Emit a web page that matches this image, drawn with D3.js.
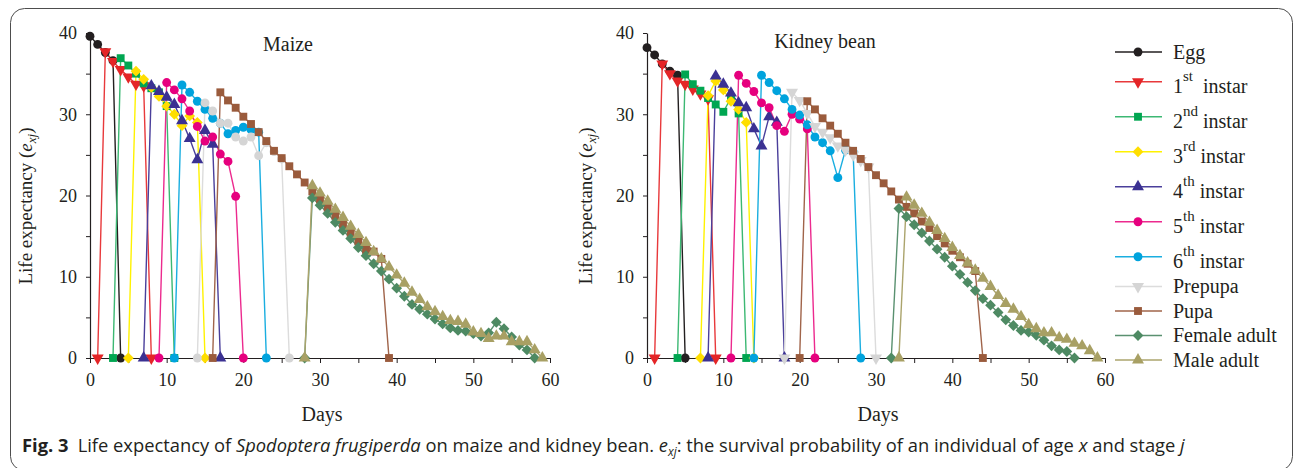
<!DOCTYPE html>
<html>
<head>
<meta charset="utf-8">
<script src="https://cdn.jsdelivr.net/npm/d3@7"></script>
<style>
  body { margin: 0; background: #fff; }
  text { fill: #231f20; }
</style>
</head>
<body>
<svg id="chart" width="1295" height="468"></svg>
<script>
// stages, in legend order
var stageNames = ["Egg", "1st instar", "2nd instar", "3rd instar", "4th instar", "5th instar",
                  "6th instar", "Prepupa", "Pupa", "Female adult", "Male adult"];
var markerColors = ["#231f20", "#e42527", "#00a651", "#ffde00", "#3b3192", "#e6007e",
                    "#00a3dd", "#d5d5d5", "#9a5b3c", "#4e8a63", "#a8a064"];
var lineColors = ["#231f20", "#e8393b", "#3cb873", "#fff200", "#4a3f9b", "#ec2a8e",
                  "#1aaee0", "#dcdcdc", "#a0644a", "#5a9170", "#aba46c"];

// Maize: first day of each stage, then e_xj per day from that day on
var maizeStart = [0, 1, 3, 5, 7, 9, 11, 14, 16, 28, 28];
var maizeValues = [
  [39.6, 38.6, 37.6, 36.6, 0],
  [0, 37.7, 36.5, 35.5, 34.6, 33.7, 33.5, 0],
  [0, 36.9, 36.0, 35.0, 33.8, 33.2, 32.7, 31.0, 0],
  [0, 35.3, 34.3, 33.3, 32.2, 31.0, 30.0, 28.6, 29.8, 29.0, 0],
  [0, 33.5, 32.8, 32.1, 31.2, 29.2, 27.0, 24.4, 28.0, 26.3, 0],
  [0, 33.9, 33.0, 31.9, 30.4, 28.5, 26.7, 27.2, 25.1, 24.2, 19.9, 0],
  [0, 33.6, 32.7, 31.6, 30.6, 29.5, 28.9, 27.6, 28.0, 28.4, 28.1, 27.8, 0],
  [0, 31.4, 30.4, 28.9, 28.9, 27.2, 26.7, 27.2, 24.9, 26.5, 25.4, 24.5, 0],
  [0, 32.7, 31.7, 30.8, 29.7, 28.8, 27.8, 26.7, 25.5, 24.6, 23.6, 22.6, 21.6, 20.5, 19.5,
   18.5, 17.5, 16.4, 15.4, 14.35, 13.3, 13.1, 12.2, 0],
  [0, 19.7, 18.8, 17.8, 16.7, 15.7, 14.7, 13.6, 12.6, 11.6, 10.7, 9.7, 8.6, 7.6, 6.6, 6.0,
   5.4, 4.8, 4.2, 3.7, 3.4, 3.3, 3.0, 2.7, 3.1, 4.4, 3.6, 2.6, 1.6, 1.0, 0],
  [0, 21.2, 20.3, 19.3, 18.3, 17.3, 16.2, 15.2, 14.2, 13.1, 12.2, 11.2, 10.2, 9.2, 8.1, 7.2,
   6.3, 5.7, 5.1, 4.6, 4.5, 4.15, 3.2, 3.0, 2.4, 2.7, 2.7, 2.0, 2.0, 2.0, 1.0, 0]
];

// Kidney bean
var beanStart = [0, 1, 4, 7, 8, 11, 14, 18, 20, 32, 33];
var beanValues = [
  [38.2, 37.3, 36.2, 35.3, 34.8, 0],
  [0, 36.2, 35.0, 34.1, 33.7, 33.1, 32.5, 31.9, 0],
  [0, 34.9, 33.7, 32.9, 32.0, 31.2, 30.3, 32.0, 30.1, 0],
  [0, 32.3, 34.1, 33.0, 31.6, 30.6, 29.0, 0],
  [0, 34.7, 33.7, 32.6, 31.4, 30.8, 28.2, 26.1, 29.7, 29.0, 0],
  [0, 34.8, 33.8, 32.8, 31.4, 30.8, 28.6, 27.9, 30.0, 29.4, 28.2, 0],
  [0, 34.8, 33.9, 32.9, 31.9, 30.6, 29.9, 28.7, 27.2, 26.5, 25.5, 22.2, 25.6, 25.4, 0],
  [0, 32.7, 31.7, 30.1, 28.5, 27.8, 27.1, 26.1, 25.6, 25.0, 24.3, 23.5, 0],
  [0, 31.6, 30.6, 29.5, 28.6, 27.6, 26.5, 25.5, 24.5, 23.5, 22.5, 21.5, 20.5, 19.5, 18.6,
   17.8, 16.8, 16.0, 15.0, 14.1, 13.2, 12.4, 11.6, 10.7, 0],
  [0, 18.4, 17.4, 16.4, 15.4, 14.4, 13.4, 12.4, 11.3, 10.3, 9.3, 8.3, 7.3, 6.5, 5.6, 4.7,
   4.0, 3.4, 3.2, 2.8, 2.2, 1.5, 1.0, 0.8, 0],
  [0, 19.8, 18.8, 17.8, 16.7, 15.7, 14.7, 13.6, 12.6, 11.7, 10.8, 9.8, 8.8, 7.7, 6.7, 6.0,
   5.1, 4.1, 3.6, 3.1, 3.1, 2.5, 2.3, 1.8, 1.5, 0.9, 0]
];

var xTicks = [0, 5, 10, 15, 20, 25, 30, 35, 40, 45, 50, 55, 60];
var yTicks = [0, 5, 10, 15, 20, 25, 30, 35, 40];

var svg = d3.select("#chart");
var serif = "'Liberation Serif', 'Times New Roman', serif";

// frame
svg.append("rect")
    .attr("x", 10.5).attr("y", 8.5)
    .attr("width", 1282).attr("height", 462)
    .attr("rx", 14)
    .style("fill", "none").style("stroke", "#4d4d4d").style("stroke-width", 1);

// marker shapes: [symbol type, rotation, size]
var shapes = [
  [d3.symbolCircle, 0, 62], [d3.symbolTriangle, 180, 62], [d3.symbolSquare, 0, 62],
  [d3.symbolSquare, 45, 58], [d3.symbolTriangle, 0, 62], [d3.symbolCircle, 0, 62],
  [d3.symbolCircle, 0, 62], [d3.symbolTriangle, 180, 62], [d3.symbolSquare, 0, 62],
  [d3.symbolSquare, 45, 58], [d3.symbolTriangle, 0, 62]
];
function markerPath(s) {
  return d3.symbol().type(s[0]).size(s[2])();
}

var yScale = d3.scaleLinear().domain([0, 40]).range([358, 33]);

// the maize panel draws prepupa points as round dots
var panels = [
  {title: "Maize", start: maizeStart, values: maizeValues, x0: 90, x1: 550, titleX: 288, titleY: 51, labelX: 32,
   shapeFor: {7: 0}},
  {title: "Kidney bean", start: beanStart, values: beanValues, x0: 647, x1: 1105, titleX: 825, titleY: 48, labelX: 592,
   shapeFor: {}}
];

panels.forEach(function(p) {
  var xScale = d3.scaleLinear().domain([0, 60]).range([p.x0, p.x1]);
  var g = svg.append("g");

  // axes
  var xAxis = d3.axisBottom(xScale).tickValues(xTicks).tickSize(5).tickPadding(10).tickSizeOuter(0)
      .tickFormat(function(d) { return d % 10 === 0 ? d : ""; });
  var yAxis = d3.axisLeft(yScale).tickValues(yTicks).tickSize(4).tickPadding(9).tickSizeOuter(0)
      .tickFormat(function(d) { return d % 10 === 0 ? d : ""; });
  var xg = g.append("g").attr("transform", "translate(0,358)").call(xAxis);
  var yg = g.append("g").attr("transform", "translate(" + p.x0 + ",0)").call(yAxis);
  [xg, yg].forEach(function(a) {
    a.select(".domain").style("stroke", "#231f20").style("stroke-width", 1.2);
    a.selectAll(".tick line").style("stroke", "#231f20");
    a.selectAll("text").style("font-family", serif).style("font-size", "18px").style("fill", "#231f20");
  });

  // series lines
  var line = d3.line()
      .x(function(d) { return xScale(d[0]); })
      .y(function(d) { return yScale(d[1]); });
  var series = p.values.map(function(vals, i) {
    return vals.map(function(v, k) { return [p.start[i] + k, v]; });
  });
  series.forEach(function(pts, i) {
    g.append("path").datum(pts).attr("d", line)
        .style("fill", "none").style("stroke", lineColors[i]).style("stroke-width", 1.4);
  });
  series.forEach(function(pts, i) {
    var s = shapes[p.shapeFor[i] !== undefined ? p.shapeFor[i] : i];
    g.selectAll("path.m" + i).data(pts).enter().append("path")
        .attr("class", "m" + i)
        .attr("d", markerPath(s))
        .attr("transform", function(d) {
          return "translate(" + xScale(d[0]) + "," + yScale(d[1]) + ") rotate(" + s[1] + ")";
        })
        .style("fill", markerColors[i]);
  });

  // panel title
  g.append("text").attr("x", p.titleX).attr("y", p.titleY)
      .attr("text-anchor", "middle")
      .style("font-family", serif).style("font-size", "20px")
      .text(p.title);

  // x label
  g.append("text").attr("x", (p.x0 + p.x1) / 2 + 2).attr("y", 421)
      .attr("text-anchor", "middle")
      .style("font-family", serif).style("font-size", "20px")
      .text("Days");

  // y label
  var yl = g.append("text")
      .attr("transform", "translate(" + p.labelX + ",206) rotate(-90)")
      .attr("text-anchor", "middle")
      .style("font-family", serif).style("font-size", "19px");
  yl.append("tspan").text("Life expectancy (");
  yl.append("tspan").style("font-style", "italic").text("e");
  yl.append("tspan").style("font-style", "italic").style("font-size", "13px").attr("dy", 4).text("xj");
  yl.append("tspan").attr("dy", -4).text(")");
});

// legend
var legend = svg.append("g");
var ly = 52, prevSup = 0;
stageNames.forEach(function(name, i) {
  var m = name.match(/^(\d)(st|nd|rd|th) (.*)$/);
  var sup = m ? 1 : 0;
  if (i > 0) ly += 24.5 + 5.25 * (prevSup + sup);
  prevSup = sup;
  legend.append("line").attr("x1", 1115).attr("x2", 1162).attr("y1", ly).attr("y2", ly)
      .style("stroke", lineColors[i]).style("stroke-width", 1.4);
  legend.append("path").attr("d", markerPath(shapes[i]))
      .attr("transform", "translate(1138," + ly + ") rotate(" + shapes[i][1] + ")")
      .style("fill", markerColors[i]);
  var t = legend.append("text").attr("x", 1173)
      .style("font-family", serif).style("font-size", "20px");
  if (m) {
    t.attr("y", ly + 11.5);
    t.append("tspan").text(m[1]);
    t.append("tspan").attr("dy", -12).style("font-size", "15px").text(m[2]);
    t.append("tspan").attr("dy", 12).attr("dx", m[2] === "st" ? 5 : 0).text(" " + m[3]);
  } else {
    t.attr("y", ly + 6.6).text(name);
  }
});

// caption
var sans = "'Open Sans', 'Noto Sans', sans-serif";
var cap = svg.append("text").attr("x", 22).attr("y", 452)
    .style("font-family", sans).style("font-size", "18.5px").style("fill", "#231f20");
cap.append("tspan").style("font-weight", "bold").text("Fig. 3");
cap.append("tspan").text("\u2002Life expectancy of ");
cap.append("tspan").style("font-style", "italic").text("Spodoptera frugiperda");
cap.append("tspan").text(" on maize and kidney bean. ");
cap.append("tspan").style("font-style", "italic").text("e");
cap.append("tspan").style("font-style", "italic").style("font-size", "12px").attr("dy", 4).text("xj");
cap.append("tspan").attr("dy", -4).text(": the survival probability of an individual of age ");
cap.append("tspan").style("font-style", "italic").text("x");
cap.append("tspan").text(" and stage ");
cap.append("tspan").style("font-style", "italic").text("j");
var w = cap.node().getComputedTextLength();
var sx = (1186 - 22) / w;
cap.attr("transform", "translate(22,0) scale(" + sx + ",1) translate(-22,0)");
</script>
</body>
</html>
